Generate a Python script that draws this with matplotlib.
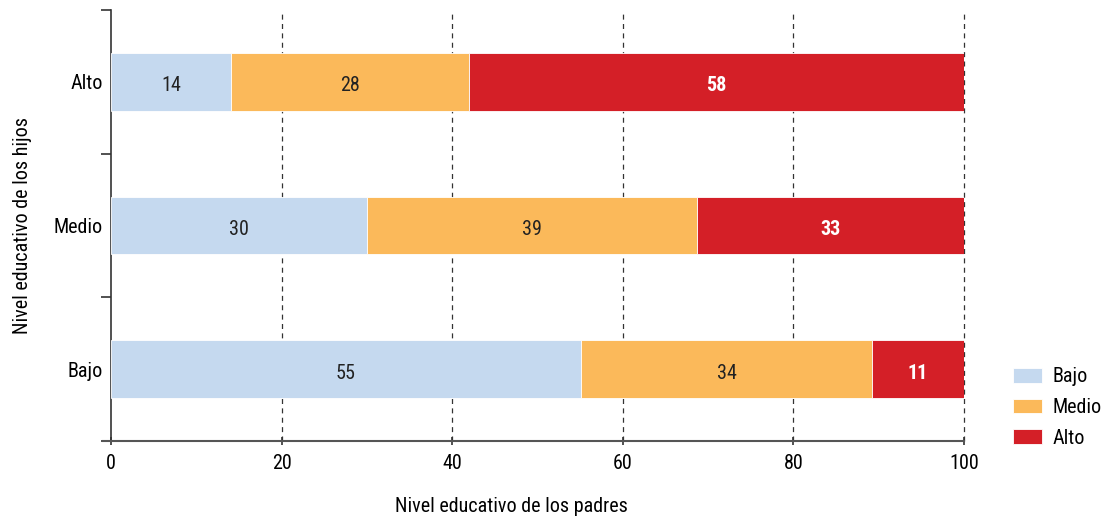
import numpy as np
import matplotlib.pyplot as plt

plt.rcParams['font.family'] = ['Roboto Condensed', 'DejaVu Sans']

# nivel educativo de los hijos (filas) y de los padres (segmentos)
hijos = ["Bajo", "Medio", "Alto"]
niveles = ["Bajo", "Medio", "Alto"]

# anchos de los segmentos
ancho_bajo = [55.1, 30.0, 14.1]
ancho_medio = [34.1, 38.7, 27.9]
ancho_alto = [10.8, 31.3, 58.0]

# etiquetas publicadas
etq_bajo = [55, 30, 14]
etq_medio = [34, 39, 28]
etq_alto = [11, 33, 58]

colores = ["#c5d9ef", "#fbb95a", "#d41f27"]
color_texto = ["#222222", "#222222", "white"]
peso_texto = ["normal", "normal", "bold"]
fs = 14.5

fig = plt.figure(figsize=(11.06, 5.17), dpi=100)
ax = fig.add_axes([0.1004, 0.147, 0.7712, 0.8336])

y = np.arange(len(hijos))
anchos = [ancho_bajo, ancho_medio, ancho_alto]
etiquetas = [etq_bajo, etq_medio, etq_alto]
izq = np.zeros(len(hijos))
for i, nivel in enumerate(niveles):
    w = np.array(anchos[i])
    bars = ax.barh(y, w, left=izq, height=0.4, color=colores[i],
                   edgecolor="white", linewidth=0.6, label=nivel, zorder=3)
    for j, b in enumerate(bars):
        # etiqueta un poco por debajo del centro, como en el original
        ax.annotate(str(etiquetas[i][j]), (izq[j] + w[j] / 2, y[j]),
                    xytext=(0, -2), textcoords="offset pixels",
                    ha="center", va="center_baseline", fontsize=fs,
                    color=color_texto[i], fontweight=peso_texto[i], zorder=4)
    izq += w

ax.set_xlim(0, 100)
ax.set_ylim(-0.5, 2.5)
ax.set_xticks(np.arange(0, 101, 20))
ax.tick_params(axis="x", labelsize=fs, length=6, width=1.2, color="#333333",
               direction="inout", pad=6)
ax.set_yticks(y)
ax.set_yticklabels(hijos, fontsize=fs)
ax.tick_params(axis="y", length=0, pad=6)
ax.set_yticks(np.arange(-0.5, 2.6, 1), minor=True)
ax.tick_params(axis="y", which="minor", length=7, width=1.2, color="#333333")

for xv in [20, 40, 60, 80, 100]:
    ax.axvline(xv, color="#333333", linestyle=(0, (4, 3.5)), linewidth=0.9,
               zorder=1, clip_on=False)

for s in ["top", "right"]:
    ax.spines[s].set_visible(False)
ax.spines["left"].set_color("#333333")
ax.spines["left"].set_linewidth(1.2)
ax.spines["bottom"].set_color("#555555")
ax.spines["bottom"].set_linewidth(1.5)
ax.spines["bottom"].set_bounds(-1, 100)

ax.set_xlabel("Nivel educativo de los padres", fontsize=fs, va="center")
ax.xaxis.set_label_coords(0.47, -0.153)
ax.set_ylabel("Nivel educativo de los hijos", fontsize=fs, va="center")
ax.yaxis.set_label_coords(-0.104, 0.5)

ax.legend(loc="upper left", bbox_to_anchor=(1.0575, 0.171), frameon=False,
          fontsize=fs, handlelength=1.45, handleheight=0.75, labelspacing=0.58,
          handletextpad=0.5, borderpad=0, borderaxespad=0)

fig.savefig("out.png", dpi=100)
